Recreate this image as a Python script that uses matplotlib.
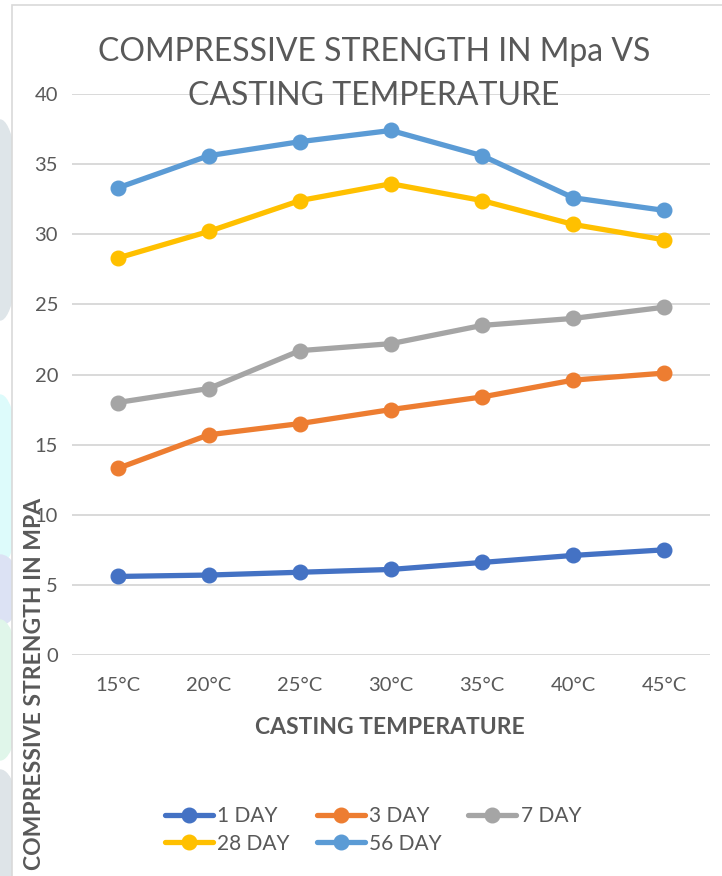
import matplotlib.pyplot as plt
from matplotlib.patches import Ellipse, Rectangle
import numpy as np

plt.rcParams['font.family'] = ['Lato', 'DejaVu Sans']

temps = ['15°C', '20°C', '25°C', '30°C', '35°C', '40°C', '45°C']
day1 = [5.6, 5.7, 5.9, 6.1, 6.6, 7.1, 7.5]
day3 = [13.3, 15.7, 16.5, 17.5, 18.4, 19.6, 20.1]
day7 = [18.0, 19.0, 21.7, 22.2, 23.5, 24.0, 24.8]
day28 = [28.3, 30.2, 32.4, 33.6, 32.4, 30.7, 29.6]
day56 = [33.3, 35.6, 36.6, 37.4, 35.6, 32.6, 31.7]

series = [('1 DAY', day1, '#4472C4'),
          ('3 DAY', day3, '#ED7D31'),
          ('7 DAY', day7, '#A5A5A5'),
          ('28 DAY', day28, '#FFC000'),
          ('56 DAY', day56, '#5B9BD5')]

grey = '#595959'
W, H = 722, 876

fig = plt.figure(figsize=(7.22, 8.76), dpi=100)

# pale shapes peeking out left of the chart frame
for (cy, h, c) in [(220, 200, '#DEE5E9'),
                   (480, 170, '#DDFBFB'),
                   (590, 70, '#DCE2F4'),
                   (690, 140, '#E0F6EA'),
                   (830, 120, '#DEE4E8')]:
    fig.add_artist(Ellipse((0, 1 - cy / H), 40 / W, h / H,
                           transform=fig.transFigure, color=c, zorder=0))

# chart frame
fig.add_artist(Rectangle((12 / W, -0.01), 1.0, 1 - 5 / H + 0.01,
                         transform=fig.transFigure, facecolor='white',
                         edgecolor='#D9D9D9', linewidth=1.2, zorder=0.5))

ax = fig.add_axes([72 / W, 1 - 655 / H, 638 / W, 561 / H])
ax.set_facecolor('none')
ax.set_zorder(2)

x = np.arange(len(temps))
for label, vals, color in series:
    ax.plot(x, vals, color=color, linewidth=3.8, marker='o', markersize=10.5,
            label=label, solid_capstyle='round', zorder=3)

ax.set_xlim(-0.5, len(temps) - 0.5)
ax.set_ylim(0, 40)
ax.set_yticks(range(0, 45, 5))
ax.set_xticks(x)
ax.set_xticklabels(temps)
ax.grid(axis='y', color='#D9D9D9', linewidth=1.4)
ax.set_axisbelow(True)
for s in ax.spines.values():
    s.set_visible(False)
ax.tick_params(length=0, labelsize=14.5, labelcolor=grey)
ax.tick_params(axis='x', pad=16)
ax.tick_params(axis='y', pad=10)

fig.text(374 / W, 1 - 74 / H, 'COMPRESSIVE STRENGTH IN Mpa VS\nCASTING TEMPERATURE',
         ha='center', va='center', fontsize=23, color=grey, linespacing=1.55)

fig.text(390 / W, 1 - 727 / H, 'CASTING TEMPERATURE', ha='center', va='center',
         fontsize=16.5, fontweight='bold', color=grey)
fig.text(35 / W, 1 - 684 / H, 'COMPRESSIVE STRENGTH IN MPA', ha='center',
         va='center', rotation=90, fontsize=16.5, fontweight='bold', color=grey)

h, l = ax.get_legend_handles_labels()
order = [0, 3, 1, 4, 2]
fig.legend([h[i] for i in order], [l[i] for i in order], ncol=3,
           loc='center', bbox_to_anchor=(373 / W, 1 - 830 / H),
           frameon=False, fontsize=15, labelcolor=grey, handlelength=2.3,
           handletextpad=0.2, columnspacing=1.3, labelspacing=0.35)

fig.savefig('out.png', dpi=100)
